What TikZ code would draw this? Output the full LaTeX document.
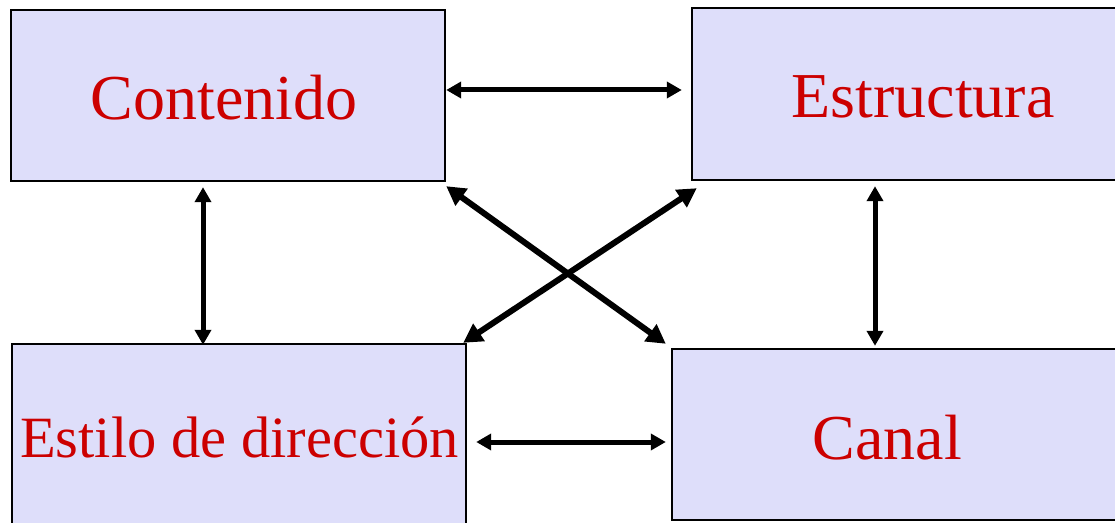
\documentclass[tikz,border=0pt]{standalone}
\usepackage{fontspec}
\setmainfont{Liberation Serif}
\usetikzlibrary{arrows.meta,calc}
\definecolor{boxfill}{RGB}{222,222,250}
\definecolor{txtred}{RGB}{204,0,0}
\tikzset{
  box/.style={draw=black, line width=2.4pt, fill=boxfill, rectangle, inner sep=0pt},
  lbl/.style={anchor=base, text=txtred, inner sep=0pt, font=\fontsize{64}{70}\selectfont},
  conn/.style={line width=5pt, {Triangle[length=15pt,width=16pt]}-{Triangle[length=15pt,width=16pt]}},
  diag/.style={line width=6pt, {Triangle[length=19pt,width=20pt]}-{Triangle[length=19pt,width=20pt]}}
}
\begin{document}
\begin{tikzpicture}[x=1pt,y=1pt]
\useasboundingbox (0,0) rectangle (1115,522);
\clip (0,0) rectangle (1115,522);
\fill[white] (0,0) rectangle (1115,522);
% boxes
\node[box, minimum width=434pt, minimum height=171pt] (cont) at (228,426.5) {};
\node[box, minimum width=430pt, minimum height=172pt] (estr) at (907,428) {};
\node[box, minimum width=454pt, minimum height=186pt] (esti) at (239,85) {};
\node[box, minimum width=450pt, minimum height=171pt] (can) at (897,87.5) {};
% labels
\node[lbl] (tcont) at (224,402) {Contenido};
\node[lbl] (testr) at (923,404.7) {Estructura};
\node[lbl, font=\fontsize{58.5}{64}\selectfont] (testi) at (239.5,64.3) {Estilo de dirección};
\node[lbl] (tcan) at (887.5,62.7) {Canal};
% connectors
\draw[conn] ([yshift=5.5pt]cont.east) -- ([shift={(-9pt,4pt)}]estr.west);
\draw[conn] ([shift={(-25pt,-5pt)}]cont.south) -- ([shift={(-36pt,-2pt)}]esti.north);
\draw[conn] ([shift={(-32pt,-5pt)}]estr.south) -- ([shift={(-22pt,2pt)}]can.north);
\draw[conn] ([shift={(9pt,-5pt)}]esti.east) -- ([shift={(-5pt,-7.5pt)}]can.west);
\draw[diag] ([shift={(0pt,-4pt)}]cont.south east) -- ([shift={(-5pt,4pt)}]can.north west);
\draw[diag] ([shift={(6pt,-7pt)}]estr.south west) -- ([shift={(-4pt,0pt)}]esti.north east);
\end{tikzpicture}
\end{document}
